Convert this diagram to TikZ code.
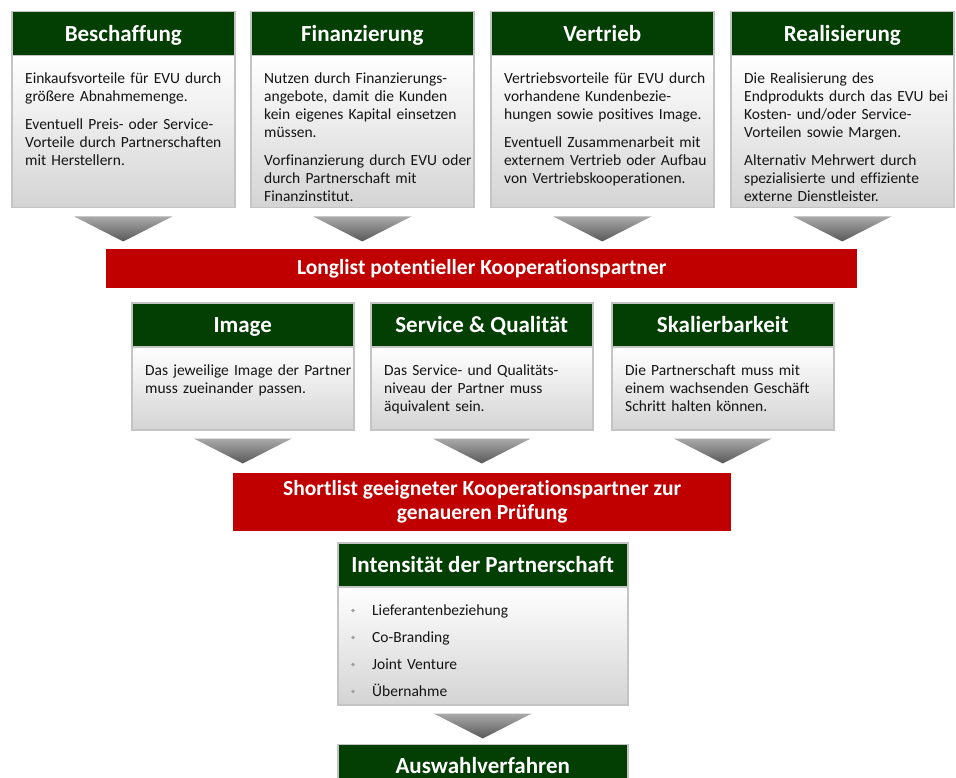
\documentclass[tikz,border=0pt]{standalone}
\usepackage{fontspec}
\setmainfont{Carlito}[RawFeature={-liga;-clig;-dlig}]
\usetikzlibrary{calc}
\definecolor{hdrgreen}{RGB}{3,62,3}
\definecolor{barred}{RGB}{192,0,0}
\definecolor{bordergray}{RGB}{196,196,196}
\definecolor{bodybot}{RGB}{212,212,212}
\definecolor{tritop}{RGB}{170,170,170}
\definecolor{tribot}{RGB}{88,88,88}
\definecolor{txt}{RGB}{20,20,20}
\definecolor{bulletgray}{RGB}{160,160,160}
\begin{document}
\begin{tikzpicture}[x=1pt,y=-1pt,
 hdr/.style={draw=bordergray, line width=1.5pt, fill=hdrgreen, text=white,
   font=\fontsize{23}{26}\selectfont\bfseries, anchor=north west, inner sep=0pt,
   minimum height=44pt, text height=18pt, text depth=3pt},
 bodybox/.style={draw=bordergray, line width=1.5pt, top color=white, bottom color=bodybot,
   anchor=north west, inner sep=0pt},
 bodytext/.style={anchor=base west, inner sep=0pt, align=left, text=txt, text width=215pt,
   font=\fontsize{15.5}{18}\selectfont},
 bar/.style={fill=barred, text=white, font=\fontsize{21.5}{24}\selectfont\bfseries,
   anchor=north west, inner sep=0pt, align=center},
 tri/.style={top color=tritop, bottom color=tribot},
]
\useasboundingbox (0,0) rectangle (956,778);
\fill[white] (0,0) rectangle (956,778);
\clip (0,0) rectangle (956,778);

% ---------- top row ----------
\node[hdr, minimum width=223pt] (h1) at (11,11) {Beschaffung};
\node[bodybox, minimum width=223pt, minimum height=152pt] (b1) at (11,55) {};
\node[bodytext] (t1) at ($(b1.north west)+(14,29)$) {Einkaufsvorteile für EVU durch\\größere Abnahmemenge.\\[10pt]Eventuell Preis- oder Service-\\Vorteile durch Partnerschaften\\mit Herstellern.};

\node[hdr, minimum width=223pt] (h2) at (250,11) {Finanzierung};
\node[bodybox, minimum width=223pt, minimum height=152pt] (b2) at (250,55) {};
\node[bodytext] (t2) at ($(b2.north west)+(14,29)$) {Nutzen durch Finanzierungs-\\angebote, damit die Kunden\\kein eigenes Kapital einsetzen\\müssen.\\[10pt]Vorfinanzierung durch EVU oder\\durch Partnerschaft mit\\Finanzinstitut.};

\node[hdr, minimum width=223pt] (h3) at (490,11) {Vertrieb};
\node[bodybox, minimum width=223pt, minimum height=152pt] (b3) at (490,55) {};
\node[bodytext] (t3) at ($(b3.north west)+(14,29)$) {Vertriebsvorteile für EVU durch\\vorhandene Kundenbezie-\\hungen sowie positives Image.\\[10pt]Eventuell Zusammenarbeit mit\\externem Vertrieb oder Aufbau\\von Vertriebskooperationen.};

\node[hdr, minimum width=223pt] (h4) at (730,11) {Realisierung};
\node[bodybox, minimum width=223pt, minimum height=152pt] (b4) at (730,55) {};
\node[bodytext] (t4) at ($(b4.north west)+(14,29)$) {Die Realisierung des\\Endprodukts durch das EVU bei\\Kosten- und/oder Service-\\Vorteilen sowie Margen.\\[10pt]Alternativ Mehrwert durch\\spezialisierte und effiziente\\externe Dienstleister.};

\foreach \b in {b1,b2,b3,b4}{
  \shade[tri] ($(\b.south)+(-49,8)$) -- ($(\b.south)+(49,8)$) -- ($(\b.south)+(0,33)$) -- cycle;
}

% ---------- longlist ----------
\node[bar, minimum width=751pt, minimum height=39pt] (long) at (106,249) {Longlist potentieller Kooperationspartner};

% ---------- middle row ----------
\node[hdr, minimum width=222pt] (h5) at (131,302) {Image};
\node[bodybox, minimum width=222pt, minimum height=83pt] (b5) at (131,346) {};
\node[bodytext] (t5) at ($(b5.north west)+(14,29)$) {Das jeweilige Image der Partner\\muss zueinander passen.};

\node[hdr, minimum width=222pt] (h6) at (370,302) {Service \& Qualität};
\node[bodybox, minimum width=222pt, minimum height=83pt] (b6) at (370,346) {};
\node[bodytext] (t6) at ($(b6.north west)+(14,29)$) {Das Service- und Qualitäts-\\niveau der Partner muss\\äquivalent sein.};

\node[hdr, minimum width=222pt] (h7) at (611,302) {Skalierbarkeit};
\node[bodybox, minimum width=222pt, minimum height=83pt] (b7) at (611,346) {};
\node[bodytext] (t7) at ($(b7.north west)+(14,29)$) {Die Partnerschaft muss mit\\einem wachsenden Geschäft\\Schritt halten können.};

\foreach \b in {b5,b6,b7}{
  \shade[tri] ($(\b.south)+(-49,8)$) -- ($(\b.south)+(49,8)$) -- ($(\b.south)+(0,33)$) -- cycle;
}

% ---------- shortlist ----------
\node[bar, minimum width=498pt, minimum height=58pt] (short) at (233,473) {Shortlist geeigneter Kooperationspartner zur\\genaueren Prüfung};

% ---------- bottom ----------
\node[hdr, minimum width=290pt] (h8) at (337,542) {Intensität der Partnerschaft};
\node[bodybox, minimum width=290pt, minimum height=118pt] (b8) at (337,586) {};
\node[bodytext] (i1) at ($(b8.north west)+(35,29)$) {Lieferantenbeziehung};
\node[bodytext] (i2) at ($(i1.base west)+(0,27)$) {Co-Branding};
\node[bodytext] (i3) at ($(i2.base west)+(0,27)$) {Joint Venture};
\node[bodytext] (i4) at ($(i3.base west)+(0,27)$) {Übernahme};
\foreach \i in {i1,i2,i3,i4}{
  \fill[bulletgray] ($(\i.base west)+(-19,-4.5)$) circle (1.8pt);
}
\shade[tri] ($(b8.south)+(-49,8)$) -- ($(b8.south)+(49,8)$) -- ($(b8.south)+(0,33)$) -- cycle;

\node[hdr, minimum width=290pt] (h9) at (337,743.5) {Auswahlverfahren};
\end{tikzpicture}
\end{document}
